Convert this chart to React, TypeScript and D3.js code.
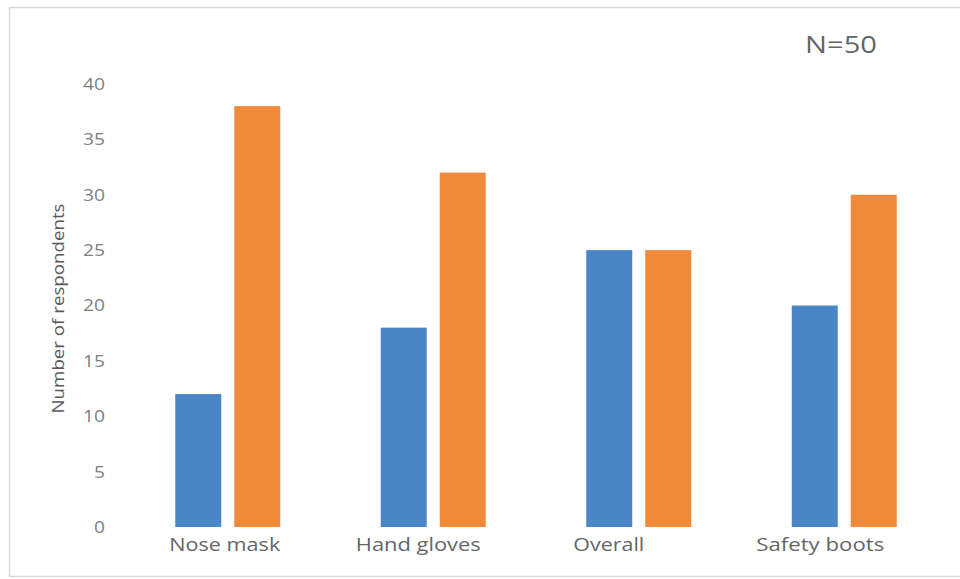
import React, { useEffect, useRef } from 'react';
import { select, scaleBand, scaleLinear, axisLeft, axisBottom } from 'd3';

const categories = ['Nose mask', 'Hand gloves', 'Overall', 'Safety boots'];
const seriesA = [12, 18, 25, 20];
const seriesB = [38, 32, 25, 30];
const yTicks = [0, 5, 10, 15, 20, 25, 30, 35, 40];

const W = 960;
const H = 579;
const BLUE = '#4a86c6';
const ORANGE = '#f08a3b';

// label placement tweaks (the source labels sit a bit left of their bars)
const labelShift = [-3, -15, -30, -24];
const labelWidth = [111, 125, 71, 128];

export default function App() {
  const svgRef = useRef<SVGSVGElement>(null);

  useEffect(() => {
    document.body.style.margin = '0';
    if (!svgRef.current) return;
    const svg = select(svgRef.current);
    svg.selectAll('*').remove();

    const margin = { top: 84, right: 13, bottom: 52, left: 125 };
    const innerW = W - margin.left - margin.right;
    const innerH = H - margin.top - margin.bottom;

    // frame
    svg.append('rect')
      .attr('x', 9.5).attr('y', 7.5)
      .attr('width', W + 5).attr('height', H - 10)
      .attr('fill', 'white')
      .attr('stroke', '#d9d9d9')
      .attr('stroke-width', 1.5);

    const g = svg.append('g').attr('transform', `translate(${margin.left},${margin.top})`);

    const x = scaleBand<string>().domain(categories).range([0, innerW]).padding(0);
    const y = scaleLinear().domain([0, 40]).range([innerH, 0]);

    const barW = 46;
    const gap = 13;

    // y axis
    const yAxis = g.append('g')
      .attr('transform', 'translate(-20,0)')
      .call(axisLeft(y).tickValues(yTicks).tickSize(0).tickPadding(0));
    yAxis.select('.domain').remove();
    yAxis.selectAll<SVGTextElement, number>('text')
      .attr('fill', '#7f7f7f')
      .attr('font-family', '"Open Sans", sans-serif')
      .attr('font-size', 17)
      .attr('textLength', d => (d >= 10 ? 22 : 11))
      .attr('lengthAdjust', 'spacingAndGlyphs');

    // x axis labels
    const xAxis = g.append('g')
      .attr('transform', `translate(0,${innerH})`)
      .call(axisBottom(x).tickSize(0).tickPadding(11));
    xAxis.select('.domain').remove();
    xAxis.selectAll<SVGTextElement, string>('text')
      .attr('fill', '#666')
      .attr('font-family', '"Open Sans", sans-serif')
      .attr('font-size', 18)
      .attr('dx', d => labelShift[categories.indexOf(d)])
      .attr('textLength', d => labelWidth[categories.indexOf(d)])
      .attr('lengthAdjust', 'spacingAndGlyphs');

    const cx = (c: string) => (x(c) || 0) + x.bandwidth() / 2;

    g.selectAll('rect.a')
      .data(categories)
      .enter()
      .append('rect')
      .attr('class', 'a')
      .attr('x', d => cx(d) - gap / 2 - barW)
      .attr('y', (d, i) => y(seriesA[i]))
      .attr('width', barW)
      .attr('height', (d, i) => innerH - y(seriesA[i]))
      .attr('fill', BLUE);

    g.selectAll('rect.b')
      .data(categories)
      .enter()
      .append('rect')
      .attr('class', 'b')
      .attr('x', d => cx(d) + gap / 2)
      .attr('y', (d, i) => y(seriesB[i]))
      .attr('width', barW)
      .attr('height', (d, i) => innerH - y(seriesB[i]))
      .attr('fill', ORANGE);

    // y title
    svg.append('text')
      .attr('transform', `translate(64,308.5) rotate(-90)`)
      .attr('text-anchor', 'middle')
      .attr('fill', '#595959')
      .attr('font-family', '"Open Sans", sans-serif')
      .attr('font-size', 17)
      .attr('textLength', 210)
      .attr('lengthAdjust', 'spacingAndGlyphs')
      .text('Number of respondents');

    // N label
    svg.append('text')
      .attr('x', 841)
      .attr('y', 53)
      .attr('text-anchor', 'middle')
      .attr('fill', '#666')
      .attr('font-family', '"Open Sans", sans-serif')
      .attr('font-size', 24)
      .attr('textLength', 72)
      .attr('lengthAdjust', 'spacingAndGlyphs')
      .text('N=50');
  }, []);

  return <svg ref={svgRef} width={W} height={H} style={{ display: 'block' }} />;
}
